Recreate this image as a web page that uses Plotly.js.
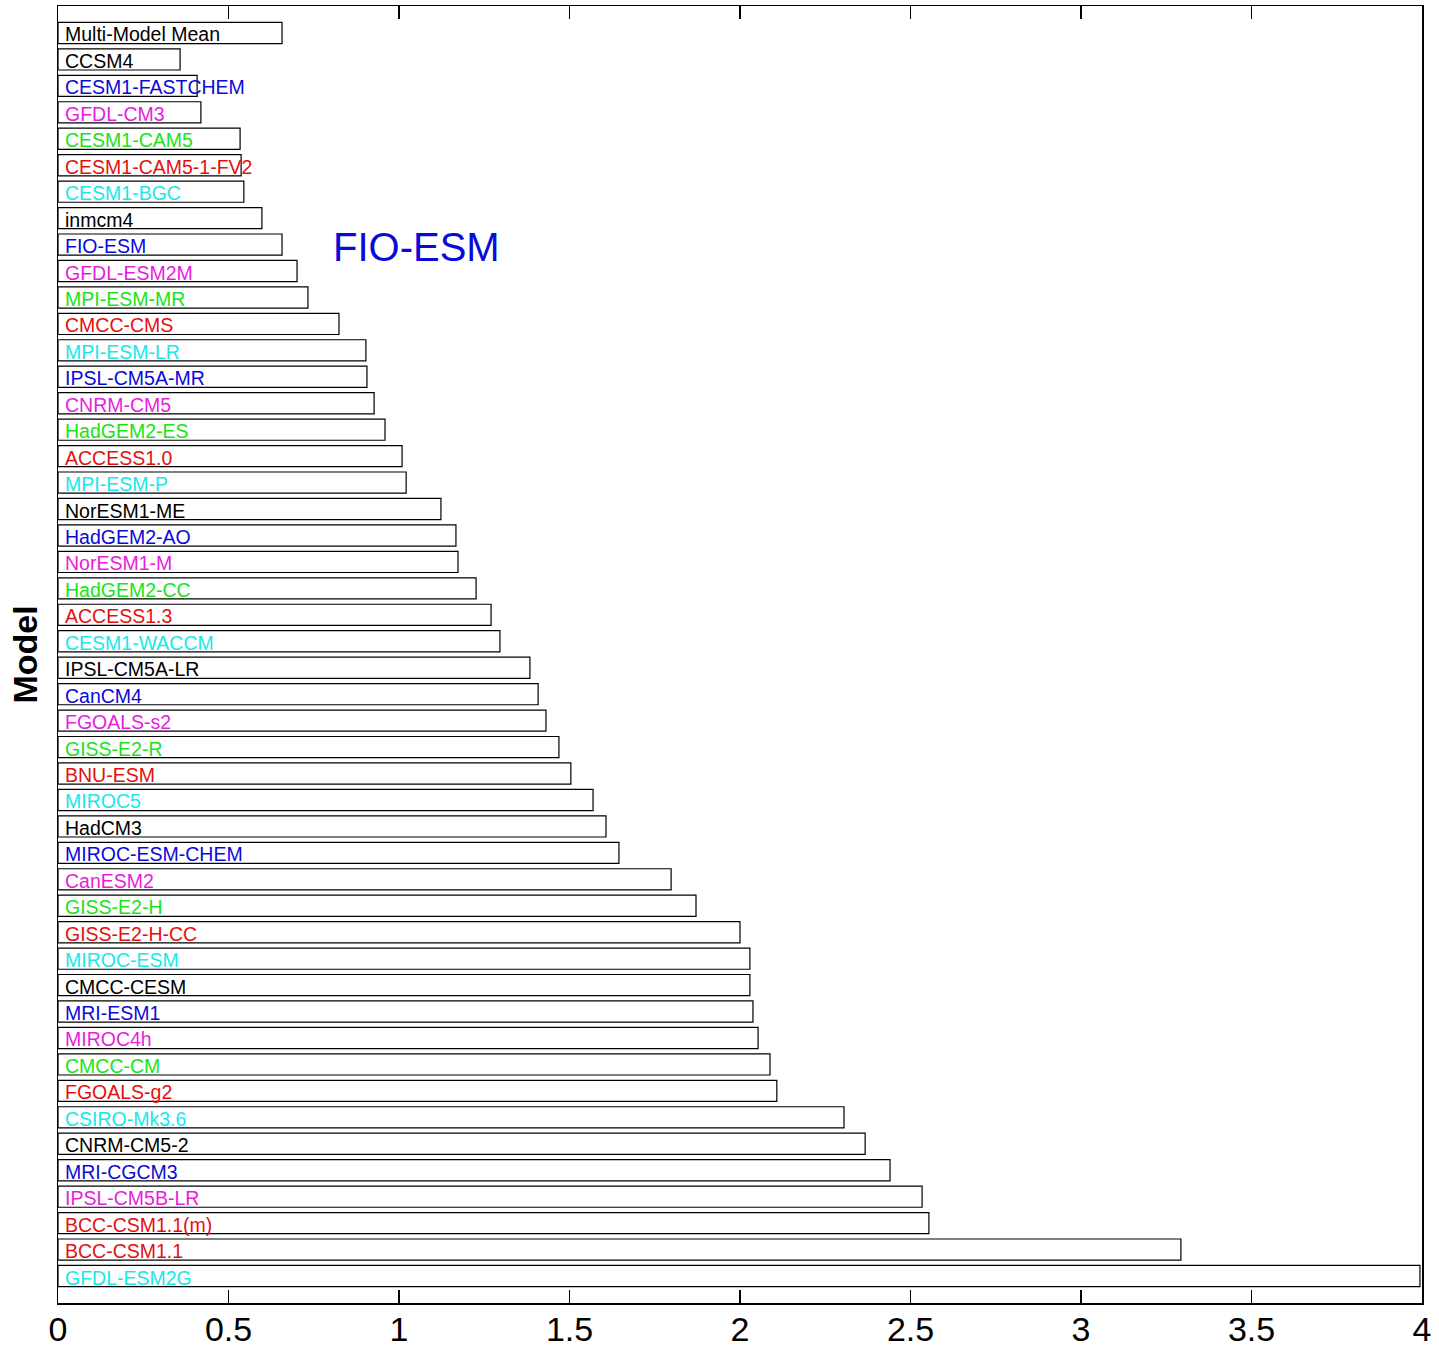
<!DOCTYPE html>
<html>
<head>
<meta charset="utf-8">
<script src="https://cdn.plot.ly/plotly-3.0.1.min.js"></script>
<style>html,body{margin:0;padding:0;background:#fff;}#chart{width:1439px;height:1349px;}</style>
</head>
<body>
<div id="chart"></div>
<script>
const models = ["Multi-Model Mean","CCSM4","CESM1-FASTCHEM","GFDL-CM3","CESM1-CAM5","CESM1-CAM5-1-FV2","CESM1-BGC","inmcm4","FIO-ESM","GFDL-ESM2M","MPI-ESM-MR","CMCC-CMS","MPI-ESM-LR","IPSL-CM5A-MR","CNRM-CM5","HadGEM2-ES","ACCESS1.0","MPI-ESM-P","NorESM1-ME","HadGEM2-AO","NorESM1-M","HadGEM2-CC","ACCESS1.3","CESM1-WACCM","IPSL-CM5A-LR","CanCM4","FGOALS-s2","GISS-E2-R","BNU-ESM","MIROC5","HadCM3","MIROC-ESM-CHEM","CanESM2","GISS-E2-H","GISS-E2-H-CC","MIROC-ESM","CMCC-CESM","MRI-ESM1","MIROC4h","CMCC-CM","FGOALS-g2","CSIRO-Mk3.6","CNRM-CM5-2","MRI-CGCM3","IPSL-CM5B-LR","BCC-CSM1.1(m)","BCC-CSM1.1","GFDL-ESM2G"];
const values = [0.657,0.358,0.408,0.419,0.534,0.537,0.545,0.598,0.657,0.701,0.733,0.824,0.903,0.906,0.927,0.959,1.009,1.021,1.123,1.167,1.173,1.226,1.270,1.296,1.384,1.408,1.431,1.469,1.504,1.569,1.607,1.645,1.798,1.871,2.000,2.029,2.029,2.038,2.053,2.088,2.108,2.305,2.367,2.440,2.534,2.554,3.293,3.994];
const labelColors = ["k","k","b","m","g","r","c","k","b","m","g","r","c","b","m","g","r","c","k","b","m","g","r","c","k","b","m","g","r","c","k","b","m","g","r","c","k","b","m","g","r","c","k","b","m","r","r","c"];
const xTicks = [0,0.5,1,1.5,2,2.5,3,3.5,4];
const xTickText = ["0","0.5","1","1.5","2","2.5","3","3.5","4"];
const highlight = "FIO-ESM";

const palette = {k:"#000000", b:"#0a0ad8", m:"#e81ce0", g:"#18e418", r:"#e41010", c:"#18e8e8"};

const trace = {
  type: "bar",
  orientation: "h",
  x: values,
  y: models,
  marker: {color: "#ffffff", line: {color: "#000000", width: 1.2}},
  width: 0.8,
  hoverinfo: "x+y"
};

const annotations = models.map((m, i) => ({
  x: 0, y: m, xref: "x", yref: "y",
  text: m, showarrow: false, xanchor: "left", yanchor: "middle",
  xshift: 5, yshift: -1.5,
  font: {family: "Liberation Sans, Arial, sans-serif", size: 19.5, color: palette[labelColors[i]]}
}));
annotations.push({
  x: 0.8, y: highlight, xref: "x", yref: "y",
  text: highlight, showarrow: false, xanchor: "left", yanchor: "middle",
  yshift: -2,
  font: {family: "Liberation Sans, Arial, sans-serif", size: 40, color: "#0a0ad8"}
});

const layout = {
  width: 1439, height: 1349,
  margin: {l: 58, r: 17, t: 6, b: 46},
  paper_bgcolor: "#ffffff", plot_bgcolor: "#ffffff",
  showlegend: false,
  xaxis: {
    range: [0, 4], tickvals: xTicks, ticktext: xTickText,
    ticks: "inside", ticklen: 13, tickwidth: 1.2, tickcolor: "#000",
    showline: true, mirror: "ticks", linecolor: "#000", linewidth: 1.5,
    showgrid: false, zeroline: false,
    ticklabelstandoff: -4,
    tickfont: {family: "Liberation Sans, Arial, sans-serif", size: 34, color: "#000"},
    automargin: false
  },
  yaxis: {
    type: "category", categoryorder: "array", categoryarray: models,
    range: [48.02, -1.02],
    showticklabels: false, ticks: "",
    showline: true, mirror: true, linecolor: "#000", linewidth: 1.5,
    showgrid: false, zeroline: false,
    title: {text: "<b>Model</b>", standoff: 8, font: {family: "Liberation Sans, Arial, sans-serif", size: 34, color: "#000"}},
    automargin: false
  },
  annotations: annotations
};

Plotly.newPlot("chart", [trace], layout, {displayModeBar: false, staticPlot: true});
</script>
</body>
</html>
